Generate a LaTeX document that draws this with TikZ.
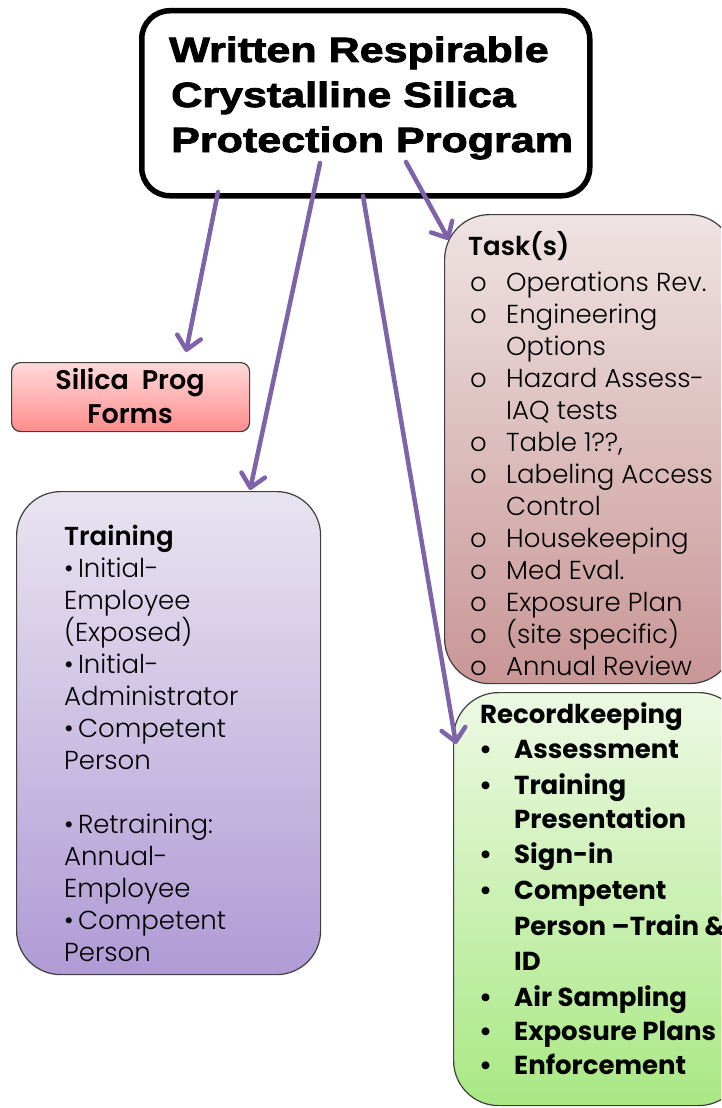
\documentclass[tikz,border=0pt]{standalone}
\usepackage{fontspec}
\setmainfont{Poppins}[UprightFont=* Light, BoldFont=* SemiBold]
\newfontfamily\titlefont{Liberation Sans}[FakeStretch=1.23, BoldFeatures={FakeBold=2.5}]
\newfontfamily\headfont{Poppins}[UprightFont=*, BoldFont=* Bold]
\usetikzlibrary{arrows.meta}

\definecolor{arrowpurple}{HTML}{7F63A8}
\definecolor{edgegray}{HTML}{3F3F3F}
\definecolor{formtop}{HTML}{FFDADA}
\definecolor{formbot}{HTML}{FF8C8C}
\definecolor{traintop}{HTML}{E9E4F1}
\definecolor{trainbot}{HTML}{B09BD5}
\definecolor{tasktop}{HTML}{EFE3E3}
\definecolor{taskbot}{HTML}{C99696}
\definecolor{rectop}{HTML}{EDF9E3}
\definecolor{recbot}{HTML}{A9E884}

\tikzset{
  box/.style={draw=edgegray, line width=1.2pt, inner sep=0pt, anchor=north west},
  titlebox/.style={draw=black, line width=5.5pt, fill=white, inner sep=0pt, anchor=north west,
    minimum width=448pt, minimum height=185pt, rounded corners=28pt},
  line/.style={anchor=base west, inner sep=0pt},
  titletext/.style={line, font=\titlefont\bfseries\fontsize{35}{40}\selectfont},
  bodytext/.style={line, font=\fontsize{26}{30}\selectfont},
  boldtext/.style={line, font=\bfseries\fontsize{26}{30}\selectfont},
  heavytext/.style={line, font=\headfont\bfseries\fontsize{26}{30}\selectfont},
  link/.style={draw=arrowpurple, line width=4.5pt, line cap=round,
    -{Straight Barb[round, length=13pt, width=24pt]}}
}

\begin{document}
\begin{tikzpicture}[x=1pt, y=-1pt]
\useasboundingbox (0,0) rectangle (721,1108);
\clip (0,0) rectangle (721,1108);
\fill[white] (0,0) rectangle (721,1108);

% heading box
\node[titlebox] (title) at (139,8) {};
\node[titletext] (h1) at (169,62) {Written Respirable};
\node[titletext] (h2) at (171,107) {Crystalline Silica};
\node[titletext] (h3) at (171,152) {Protection Program};

% forms box
\node[box, rounded corners=9pt, top color=formtop, bottom color=formbot,
  minimum width=238pt, minimum height=69pt] (forms) at (11,362) {};
\node[boldtext, anchor=base, font=\bfseries\fontsize{27}{30}\selectfont] (f1) at (130,389) {Silica\ \ Prog};
\node[boldtext, anchor=base, font=\bfseries\fontsize{27}{30}\selectfont] (f2) at (130,423) {Forms};

% training box
\node[box, rounded corners=44pt, top color=traintop, bottom color=trainbot,
  minimum width=304pt, minimum height=483pt] (training) at (16,491) {};
\node[boldtext] (trh) at (64,545) {Training};
\foreach \y/\t [count=\i] in {577/{•\,Initial-}, 609/Employee, 641/{(Exposed)},
    673/{•\,Initial-}, 705/Administrator, 737/{•\,Competent}, 769/Person,
    833/{•\,Retraining:}, 865/Annual-, 897/Employee, 929/{•\,Competent}, 961/Person}
  \node[bodytext] (tr\i) at (64,\y) {\t};

% task box
\node[box, rounded corners=45pt, top color=tasktop, bottom color=taskbot,
  minimum width=290pt, minimum height=469pt] (tasks) at (444,214) {};
\node[boldtext] (tkh) at (468,255) {Task(s)};
\foreach \y/\b/\t [count=\i] in {291/o/{Operations Rev.}, 323/o/Engineering, 355//Options,
    387/o/{Hazard Assess-}, 419//{IAQ tests}, 451/o/{Table 1??,}, 483/o/{Labeling Access},
    515//Control, 547/o/Housekeeping, 579/o/{Med Eval.}, 611/o/{Exposure Plan},
    643/o/{(site specific)}, 675/o/{Annual Review}}
  {
  \node[bodytext] (tb\i) at (470,\y) {\b};
  \node[bodytext] (tk\i) at (506,\y) {\t};
  }

% recordkeeping box
\node[box, rounded corners=45pt, top color=rectop, bottom color=recbot,
  minimum width=290pt, minimum height=413pt] (records) at (453,692) {};
\node[heavytext] (rch) at (480,723) {Recordkeeping};
\foreach \y/\b/\t [count=\i] in {758/•/Assessment, 794/•/Training, 828//Presentation,
    863/•/Sign-in, 899/•/Competent, 935//{Person –Train \&}, 970//ID,
    1006/•/{Air Sampling}, 1040/•/{Exposure Plans}, 1074/•/Enforcement}
  {
  \node[heavytext] (rb\i) at (479,\y) {\b};
  \node[heavytext] (rc\i) at (514,\y) {\t};
  }

% connectors
\coordinate (s1) at (218,192);
\coordinate (e1) at (186,352);
\coordinate (s2) at (320,163);
\coordinate (e2) at (250,490);
\coordinate (s3) at (363,196);
\coordinate (e3) at (456,744);
\coordinate (s4) at (406,162);
\coordinate (e4) at (449,240);
\draw[link] (s1) -- (e1);
\draw[link] (s2) -- (e2);
\draw[link] (s3) -- (e3);
\draw[link] (s4) -- (e4);
\end{tikzpicture}
\end{document}
